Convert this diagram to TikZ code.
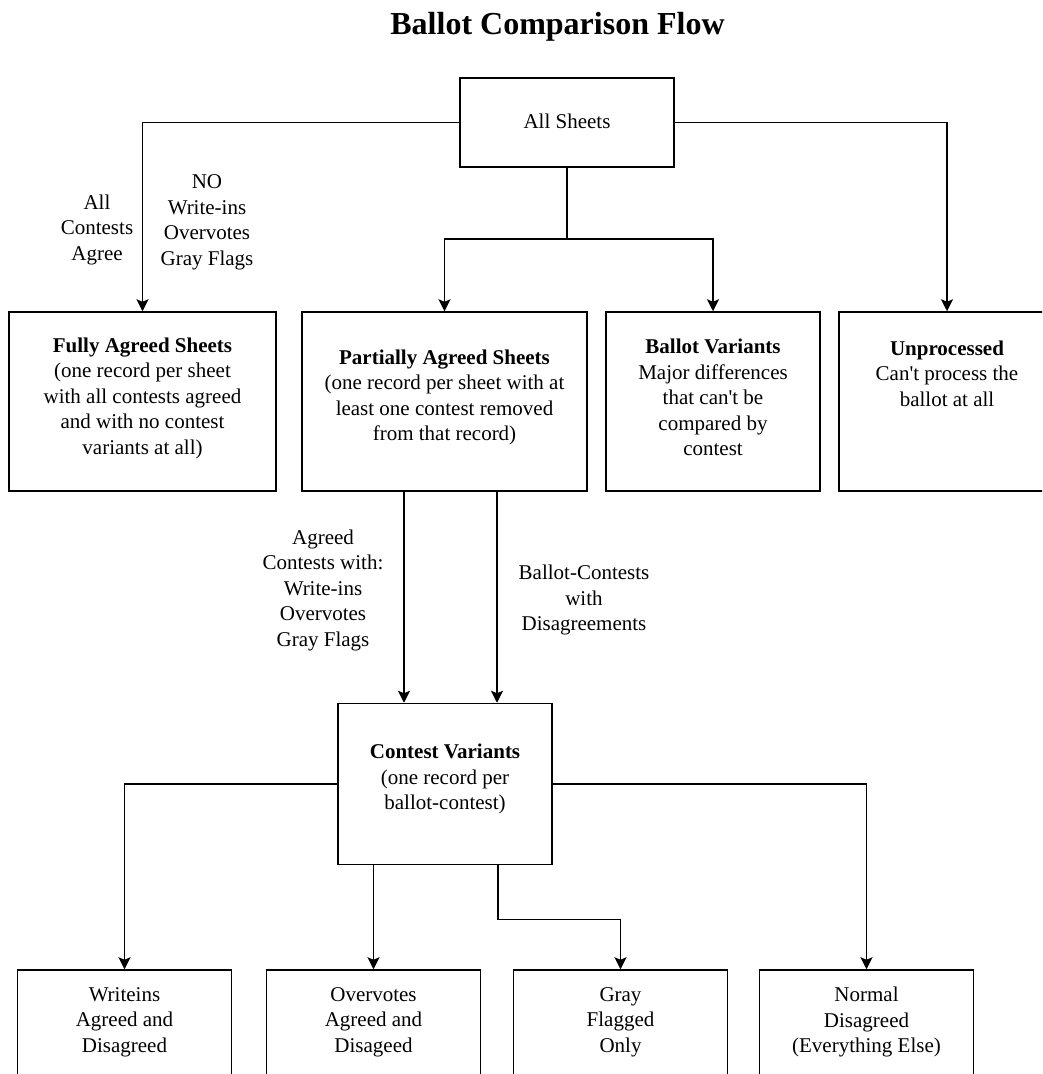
\documentclass[tikz,border=0pt]{standalone}
\usepackage{fontspec}
\setmainfont{Liberation Serif}
\usetikzlibrary{arrows.meta}
\begin{document}
\begin{tikzpicture}[x=1pt,y=-1pt,
  box/.style={draw, line width=1.5pt, rectangle, inner sep=0pt},
  txt/.style={align=center, font=\fontsize{21}{25.5}\selectfont, inner sep=0pt},
  ttl/.style={font=\fontsize{32}{38}\selectfont\bfseries, inner sep=0pt, anchor=base},
  ln/.style={line width=1.5pt},
  arr/.style={line width=1.5pt, -{Stealth[length=12pt,width=12pt,inset=2.5pt]}}]
\useasboundingbox (0,0) rectangle (1042,1074);
\fill[white] (0,0) rectangle (1042,1074);
\clip (0,0) rectangle (1042,1074);

% title
\node[ttl] (title) at (557.5,34.3) {Ballot Comparison Flow};

% top box
\node[box, minimum width=214pt, minimum height=89pt] (all) at (567,122.5) {};
\node[txt] (allT) at (567,121) {All Sheets};

% second row
\node[box, minimum width=267pt, minimum height=179pt] (fully) at (142.5,401.5) {};
\node[box, minimum width=285pt, minimum height=179pt] (partial) at (444.5,401.5) {};
\node[box, minimum width=214pt, minimum height=179pt] (ballot) at (713,401.5) {};
\node[box, minimum width=216pt, minimum height=179pt] (unp) at (947,401.5) {};

\node[txt] (fullyT) at (142.5,398) {\textbf{Fully Agreed Sheets}\\(one record per sheet\\with all contests agreed\\and with no contest\\variants at all)};
\node[txt] (partialT) at (444.5,397.5) {\textbf{Partially Agreed Sheets}\\(one record per sheet with at\\least one contest removed\\from that record)};
\node[txt] (ballotT) at (713,397.5) {\textbf{Ballot Variants}\\Major differences\\that can\textquotesingle t be\\compared by\\contest};
\node[txt] (unpT) at (947,373.5) {\textbf{Unprocessed}\\Can\textquotesingle t process the\\ballot at all};

% contest variants
\node[box, minimum width=214pt, minimum height=161pt] (contest) at (445,784) {};
\node[txt] (contestT) at (445,779) {\textbf{Contest Variants}\\(one record per\\ballot-contest)};

% bottom row
\node[box, minimum width=214pt, minimum height=179pt] (wri) at (124.5,1059.5) {};
\node[box, minimum width=214pt, minimum height=179pt] (over) at (373.5,1059.5) {};
\node[box, minimum width=214pt, minimum height=179pt] (gray) at (620.5,1059.5) {};
\node[box, minimum width=214pt, minimum height=179pt] (norm) at (866.5,1059.5) {};
\node[txt] (wriT) at (124.5,1022) {Writeins\\Agreed and\\Disagreed};
\node[txt] (overT) at (373.5,1022) {Overvotes\\Agreed and\\Disageed};
\node[txt] (grayT) at (620.5,1022) {Gray\\Flagged\\Only};
\node[txt] (normT) at (866.5,1022) {Normal\\Disagreed\\(Everything Else)};

% edge labels
\node[txt] (lblAll) at (97,229.5) {All\\Contests\\Agree};
\node[txt] (lblNo) at (207,222.5) {NO\\Write-ins\\Overvotes\\Gray Flags};
\node[txt] (lblAgreed) at (323,590) {Agreed\\Contests with:\\Write-ins\\Overvotes\\Gray Flags};
\node[txt] (lblDis) at (584,600) {Ballot-Contests\\with\\Disagreements};

% connectors from All Sheets
\coordinate (split) at (567,239);
\draw[arr] (all.west) -| (fully.north);
\draw[arr] (all.east) -| (unp.north);
\draw[ln] (all.south) -- (split);
\draw[arr] (split) -| (partial.north);
\draw[arr] (split) -| (ballot.north);

% partial to contest
\draw[arr] ([xshift=-40.5pt]partial.south) -- ([xshift=-41pt]contest.north);
\draw[arr] ([xshift=52.5pt]partial.south) -- ([xshift=52pt]contest.north);

% contest to bottom row
\draw[arr] (contest.west) -| (wri.north);
\draw[arr] (contest.east) -| (norm.north);
\draw[arr] (contest.south -| over.north) -- (over.north);
\draw[arr] ([xshift=53pt]contest.south) -- ++(0,54) -| (gray.north);
\end{tikzpicture}
\end{document}
